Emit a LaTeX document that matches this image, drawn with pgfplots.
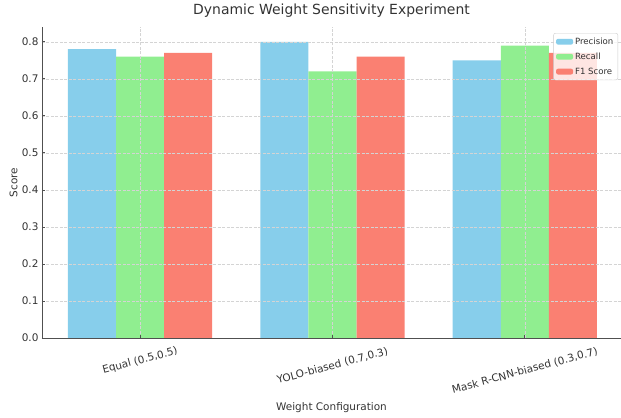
\documentclass[border=0pt]{standalone}
\usepackage{fontspec}
\setmainfont{DejaVu Sans}
\usepackage{pgfplots}
\pgfplotsset{compat=1.18}
\definecolor{skyblue}{HTML}{87CEEB}
\definecolor{lightgreen}{HTML}{90EE90}
\definecolor{salmon}{HTML}{FA8072}
\definecolor{txt}{HTML}{333333}
\definecolor{spine}{HTML}{505050}

\begin{document}
\begin{tikzpicture}
% canvas including the room for title and labels
\path[use as bounding box] (-42bp,-80bp) rectangle (579bp,338bp);
\begin{axis}[
  scale only axis, width=579bp, height=311bp,
  xmin=-0.51, xmax=2.5, ymin=0, ymax=0.84,
  axis x line*=bottom, axis y line*=left,
  axis line style={spine, line width=0.8bp},
  axis on top,
  tick align=inside, major tick length=3.5bp,
  tick style={spine, line width=0.8bp},
  grid=major,
  major grid style={draw=black!17, dash pattern=on 3bp off 1.5bp, line width=0.6bp},
  xtick={0,1,2},
  xticklabels={{Equal (0.5,0.5)},{YOLO-biased (0.7,0.3)},{Mask R-CNN-biased (0.3,0.7)}},
  ytick={0,0.1,0.2,0.3,0.4,0.5,0.6,0.7,0.8},
  /pgf/number format/assume math mode=true,
  yticklabel style={/pgf/number format/.cd, fixed, fixed zerofill, precision=1, /tikz/.cd,
    font=\fontsize{10.5}{12}\selectfont, text=txt},
  xticklabel style={font=\fontsize{10.5}{12}\selectfont, text=txt, anchor=center,
    yshift={-23-5*\ticknum}, rotate=15},
  title={Dynamic Weight Sensitivity Experiment},
  title style={at={([yshift=6.7bp]axis description cs:0.5,1)}, anchor=base,
    font=\fontsize{14}{16}\selectfont, text=txt},
  xlabel={Weight Configuration},
  xlabel style={at={([yshift=-72bp]axis description cs:0.5,0)}, anchor=base,
    font=\fontsize{10.5}{12}\selectfont, text=txt},
  ylabel={Score},
  ylabel style={at={([xshift=-24.5bp]axis description cs:0,0.5)}, anchor=base,
    font=\fontsize{10.5}{12}\selectfont, text=txt},
  legend style={at={(1,1)}, anchor=north east, xshift=-3bp, yshift=-6bp,
    draw=black!20, rounded corners=2bp, fill=white, fill opacity=0.8, text opacity=1,
    font=\fontsize{8.6}{10}\selectfont, text=txt, inner xsep=2.5bp, inner ysep=2.5bp,
    row sep=3bp, cells={anchor=west}},
  legend image code/.code={\fill[#1, fill opacity=1, draw=none] (0bp,-2.9bp) rectangle (17bp,2.9bp);},
]
\addplot[ybar, bar width=0.25, bar shift=-0.25, fill=skyblue, draw=none]
  coordinates {(0,0.78) (1,0.80) (2,0.75)};
\addlegendentry{Precision}
\addplot[ybar, bar width=0.25, bar shift=0, fill=lightgreen, draw=none]
  coordinates {(0,0.76) (1,0.72) (2,0.79)};
\addlegendentry{Recall}
\addplot[ybar, bar width=0.25, bar shift=0.25, fill=salmon, draw=none]
  coordinates {(0,0.77) (1,0.76) (2,0.77)};
\addlegendentry{F1 Score}
\end{axis}
\end{tikzpicture}
\end{document}
